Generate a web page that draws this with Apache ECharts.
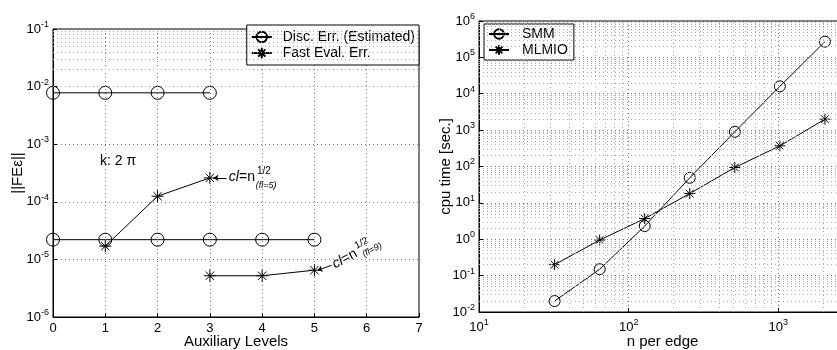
<!DOCTYPE html>
<html>
<head>
<meta charset="utf-8">
<script src="https://cdn.jsdelivr.net/npm/echarts@6/dist/echarts.min.js"></script>
<style>
html, body { margin: 0; padding: 0; background: #fff; }
#chart { width: 837px; height: 350px; }
</style>
</head>
<body>
<div id="chart"></div>
<script>
// left panel: error vs auxiliary levels
const levelTicks = [0, 1, 2, 3, 4, 5, 6, 7];
const discErrA = [[0, 7.8e-3], [1, 7.8e-3], [2, 7.8e-3], [3, 7.8e-3]];
const discErrB = [[0, 2.2e-5], [1, 2.2e-5], [2, 2.2e-5], [3, 2.2e-5], [4, 2.2e-5], [5, 2.2e-5]];
const fastErrA = [[1, 1.7e-5], [2, 1.25e-4], [3, 2.6e-4]];
const fastErrB = [[3, 5.2e-6], [4, 5.2e-6], [5, 6.5e-6]];

// right panel: cpu time vs n per edge
const nPerEdge = [32, 64, 128, 256, 512, 1024, 2048];
const smmTime = [0.02, 0.15, 2.3, 49, 900, 16000, 2.7e5];
const mlmioTime = [0.2, 0.95, 3.7, 18, 94, 370, 2000];

const FONT = 'Liberation Sans, Arial, Helvetica, sans-serif';
const CIRCLE = 'path://M10,0A10,10 0 1,1 -10,0A10,10 0 1,1 10,0Z';
const STAR = 'path://M0,-10L0,10M-10,0L10,0M-7,-7L7,7M-7,7L7,-7';

const powLabel = (v) => '{b|10}{s|' + Math.round(Math.log10(v)) + '}';
const powRich = {
    b: { fontSize: 13, fontFamily: FONT, color: '#000' },
    s: { fontSize: 9, fontFamily: FONT, color: '#000', padding: [0, 0, 9, 0] }
};

// 2..9 x 10^k positions for the minor (dotted) grid
const minorVals = (lo, hi) => {
    let out = [];
    for (let e = lo; e < hi; e++) {
        for (let m = 2; m <= 9; m++) out.push(m * Math.pow(10, e));
    }
    return out;
};

const majorSplit = { show: true, lineStyle: { color: '#777', type: [1, 3], width: 1 } };
const minorLine = { color: '#aaa', type: [1, 3], width: 1 };

const markLineOf = (key, vals) => ({
    silent: true,
    symbol: 'none',
    label: { show: false },
    lineStyle: minorLine,
    animation: false,
    data: vals.map(v => ({ [key]: v }))
});

const lineStyle = { color: '#000', width: 1 };
const circleItem = { color: 'rgba(0,0,0,0)', borderColor: '#000', borderWidth: 1 };
const starItem = { color: '#000', borderColor: '#000', borderWidth: 1 };

const annoText = {
    i: { fontSize: 14, fontStyle: 'italic', fontFamily: FONT, color: '#000' },
    r: { fontSize: 14, fontFamily: FONT, color: '#000' },
    s: { fontSize: 10, fontFamily: FONT, color: '#000', padding: [0, 0, 12, 2] }
};
const subText = { fontSize: 9, fontStyle: 'italic', fontFamily: FONT, color: '#000' };

const myChart = echarts.init(document.getElementById('chart'));
const option = {
    animation: false,
    textStyle: { fontFamily: FONT },
    grid: [
        { left: 53, top: 29, width: 366, height: 288, outerBoundsMode: 'none', show: true, borderColor: '#000', borderWidth: 1, backgroundColor: 'transparent' },
        { left: 479, top: 21, width: 449, height: 291, outerBoundsMode: 'none', show: true, borderColor: '#000', borderWidth: 1, backgroundColor: 'transparent' }
    ],
    legend: [
        {
            data: ['Disc. Err. (Estimated)', 'Fast Eval. Err.'],
            orient: 'vertical',
            right: 418, top: 25,
            backgroundColor: '#fff', borderColor: '#000', borderWidth: 1,
            padding: [5, 4, 5, 4], itemGap: 2, itemWidth: 20, itemHeight: 13,
            textStyle: { fontSize: 14, color: '#000', fontFamily: FONT, padding: [0, 0, 0, 6] }
        },
        {
            data: ['SMM', 'MLMIO'],
            orient: 'vertical',
            left: 484, top: 24,
            backgroundColor: '#fff', borderColor: '#000', borderWidth: 1,
            padding: [3, 6, 3, 4], itemGap: 2, itemWidth: 20, itemHeight: 12,
            textStyle: { fontSize: 14, color: '#000', fontFamily: FONT, padding: [0, 0, 0, 8] }
        }
    ],
    xAxis: [
        {
            gridIndex: 0, type: 'value', min: levelTicks[0], max: levelTicks[levelTicks.length - 1], interval: 1,
            name: 'Auxiliary Levels', nameLocation: 'middle', nameGap: 17, nameMoveOverlap: false,
            nameTextStyle: { fontSize: 15, color: '#000', fontFamily: FONT },
            axisLine: { lineStyle: { color: '#000' } },
            axisTick: { inside: true, length: 4, lineStyle: { color: '#000' } },
            axisLabel: { fontSize: 13, color: '#000', margin: 5 },
            splitLine: majorSplit
        },
        {
            gridIndex: 1, type: 'log', logBase: 10, min: 10, max: 10000,
            name: 'n per edge', nameLocation: 'middle', nameGap: 22, nameMoveOverlap: false,
            nameTextStyle: { fontSize: 15, color: '#000', fontFamily: FONT, padding: [0, 82, 0, 0] },
            axisLine: { lineStyle: { color: '#000' } },
            axisTick: { inside: true, length: 4, lineStyle: { color: '#000' } },
            axisLabel: { formatter: powLabel, rich: powRich, margin: 6 },
            splitLine: majorSplit
        }
    ],
    yAxis: [
        {
            gridIndex: 0, type: 'log', logBase: 10, min: 1e-6, max: 1e-1, splitNumber: 5,
            name: '||FE\u03b5||', nameLocation: 'middle', nameGap: 28, nameMoveOverlap: false,
            nameTextStyle: { fontSize: 15, color: '#000', fontFamily: FONT },
            axisLine: { lineStyle: { color: '#000' } },
            axisTick: { inside: true, length: 4, lineStyle: { color: '#000' } },
            axisLabel: { formatter: powLabel, rich: powRich, margin: 4 },
            splitLine: majorSplit
        },
        {
            gridIndex: 1, type: 'log', logBase: 10, min: 1e-2, max: 1e6, splitNumber: 8,
            name: 'cpu time [sec.]', nameLocation: 'middle', nameGap: 26, nameMoveOverlap: false,
            nameTextStyle: { fontSize: 15, color: '#000', fontFamily: FONT },
            axisLine: { lineStyle: { color: '#000' } },
            axisTick: { inside: true, length: 4, lineStyle: { color: '#000' } },
            axisLabel: { formatter: powLabel, rich: powRich, margin: 4 },
            splitLine: majorSplit
        }
    ],
    series: [
        // minor grid helpers
        { type: 'line', xAxisIndex: 0, yAxisIndex: 0, data: [], z: 1, markLine: markLineOf('yAxis', minorVals(-6, -1)) },
        { type: 'line', xAxisIndex: 1, yAxisIndex: 1, data: [], z: 1, markLine: markLineOf('yAxis', minorVals(-2, 6)) },
        { type: 'line', xAxisIndex: 1, yAxisIndex: 1, data: [], z: 1, markLine: markLineOf('xAxis', minorVals(1, 4)) },

        {
            name: 'Disc. Err. (Estimated)', type: 'line', xAxisIndex: 0, yAxisIndex: 0,
            data: discErrA, symbol: CIRCLE, symbolSize: 13, lineStyle, itemStyle: circleItem, z: 3,
            markPoint: {
                symbol: 'circle', symbolSize: 0, silent: true,
                label: { show: true, position: 'right', distance: 0, formatter: '{r|k: 2 \u03c0}', rich: annoText },
                data: [{ coord: [0.9, 5e-4] }]
            }
        },
        { name: 'Disc. Err. (Estimated)', type: 'line', xAxisIndex: 0, yAxisIndex: 0,
          data: discErrB, symbol: CIRCLE, symbolSize: 13, lineStyle, itemStyle: circleItem, z: 3 },
        {
            name: 'Fast Eval. Err.', type: 'line', xAxisIndex: 0, yAxisIndex: 0,
            data: fastErrA, symbol: STAR, symbolSize: 12, lineStyle, itemStyle: starItem, z: 3,
            markLine: {
                silent: true, symbol: ['none', 'arrow'], symbolSize: 5, label: { show: false },
                lineStyle: { color: '#000', width: 1, type: 'solid' },
                data: [[{ coord: [3.32, 2.6e-4] }, { coord: [3.07, 2.6e-4] }]]
            },
            markPoint: {
                symbol: 'circle', symbolSize: 0, silent: true,
                data: [
                    { coord: [3, 2.6e-4], label: { show: true, position: 'right', distance: 19, offset: [0, -1], formatter: '{i|cl}{r|=n}{s|1/2}', rich: annoText } },
                    { coord: [3, 2.6e-4], label: { show: true, position: 'right', distance: 46, offset: [0, 8], formatter: '(fl=5)', ...subText } }
                ]
            }
        },
        {
            name: 'Fast Eval. Err.', type: 'line', xAxisIndex: 0, yAxisIndex: 0,
            data: fastErrB, symbol: STAR, symbolSize: 12, lineStyle, itemStyle: starItem, z: 3,
            markLine: {
                silent: true, symbol: ['none', 'arrow'], symbolSize: 5, label: { show: false },
                lineStyle: { color: '#000', width: 1, type: 'solid' },
                data: [[{ coord: [5.33, 7.9e-6] }, { coord: [5.06, 6.5e-6] }]]
            },
            markPoint: {
                symbol: 'circle', symbolSize: 0, silent: true,
                data: [
                    { coord: [5.36, 8.0e-6], label: { show: true, position: 'inside', align: 'left', rotate: 28, formatter: '{i|cl}{r|=n}{s|1/2}', rich: annoText } },
                    { coord: [5.93, 1.2e-5], label: { show: true, position: 'inside', align: 'left', rotate: 28, formatter: '(fl=9)', ...subText } }
                ]
            }
        },
        { name: 'SMM', type: 'line', xAxisIndex: 1, yAxisIndex: 1,
          data: nPerEdge.map((n, i) => [n, smmTime[i]]), symbol: CIRCLE, symbolSize: 11, lineStyle, itemStyle: circleItem, z: 3 },
        { name: 'MLMIO', type: 'line', xAxisIndex: 1, yAxisIndex: 1,
          data: nPerEdge.map((n, i) => [n, mlmioTime[i]]), symbol: STAR, symbolSize: 11, lineStyle, itemStyle: starItem, z: 3 }
    ]
};
myChart.setOption(option);
</script>
</body>
</html>
